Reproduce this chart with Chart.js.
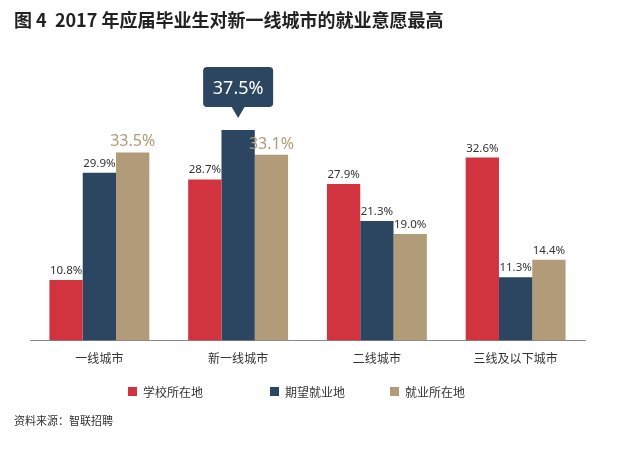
<!DOCTYPE html>
<html><head><meta charset="utf-8">
<script src="https://cdn.jsdelivr.net/npm/chart.js@4/dist/chart.umd.min.js"></script>
<style>
body{margin:0;background:#fff;font-family:"Noto Sans CJK SC","Noto Sans",sans-serif;}
#wrap{position:relative;width:641px;height:449px;}
#title{position:absolute;left:14px;top:6px;font-size:18px;font-weight:bold;color:#222;}
#src{position:absolute;left:14px;top:412px;font-size:11px;color:#333;}
</style></head><body>
<div id="wrap">
<canvas id="c" width="641" height="449"></canvas>
<div id="title">图 4&nbsp; 2017 年应届毕业生对新一线城市的就业意愿最高</div>
<div id="src">资料来源：智联招聘</div>
</div>
<script>
const categories = ["一线城市", "新一线城市", "二线城市", "三线及以下城市"];
const seriesNames = ["学校所在地", "期望就业地", "就业所在地"];
const schoolValues = [10.8, 28.7, 27.9, 32.6];
const expectValues = [29.9, 37.5, 21.3, 11.3];
const workValues = [33.5, 33.1, 19.0, 14.4];
const colors = ["#d2343f", "#2c4561", "#b19b78"];

const labelPlugin = {
	id: "labels",
	afterDatasetsDraw(chart) {
		const ctx = chart.ctx;
		ctx.save();
		ctx.textAlign = "center";
		chart.data.datasets.forEach((ds, di) => {
			chart.getDatasetMeta(di).data.forEach((bar, i) => {
				const v = ds.data[i].toFixed(1) + "%";
				if (di === 1 && i === 1) {
					// callout box
					const x = bar.x, y = bar.y;
					ctx.fillStyle = colors[1];
					ctx.beginPath();
					ctx.roundRect(x - 35, y - 63, 70, 40, 4);
					ctx.fill();
					ctx.beginPath();
					ctx.moveTo(x - 7, y - 24);
					ctx.lineTo(x, y - 12);
					ctx.lineTo(x + 7, y - 24);
					ctx.fill();
					ctx.fillStyle = "#fff";
					ctx.font = "18px 'Noto Sans', sans-serif";
					ctx.fillText(v, x, y - 36);
				} else if (di === 2 && (i === 0 || i === 1)) {
					ctx.fillStyle = colors[2];
					ctx.font = "16px 'Noto Sans', sans-serif";
					ctx.fillText(v, bar.x, bar.y - 6);
				} else {
					ctx.fillStyle = "#333";
					ctx.font = "11.5px 'Noto Sans', sans-serif";
					ctx.fillText(v, bar.x, bar.y - 6);
				}
			});
		});
		// legend
		const lx = [128, 270, 390];
		ctx.textAlign = "left";
		ctx.textBaseline = "middle";
		ctx.font = "12px 'Noto Sans CJK SC', sans-serif";
		seriesNames.forEach((n, k) => {
			ctx.fillStyle = colors[k];
			ctx.fillRect(lx[k], 387, 9, 9);
			ctx.fillStyle = "#333";
			ctx.fillText(n, lx[k] + 15, 392);
		});
		ctx.restore();
	}
};

new Chart(document.getElementById("c").getContext("2d"), {
	type: "bar",
	data: {
		labels: categories,
		datasets: [
			{ label: seriesNames[0], data: schoolValues, backgroundColor: colors[0] },
			{ label: seriesNames[1], data: expectValues, backgroundColor: colors[1] },
			{ label: seriesNames[2], data: workValues, backgroundColor: colors[2] },
		],
	},
	options: {
		responsive: false,
		animation: false,
		layout: { padding: { left: 30, right: 56, top: 116, bottom: 80 } },
		datasets: { bar: { categoryPercentage: 0.72, barPercentage: 1 } },
		plugins: { legend: { display: false }, tooltip: { enabled: false } },
		scales: {
			y: { display: false, min: 0, max: 40 },
			x: {
				grid: { display: false },
				border: { color: "#888" },
				ticks: { color: "#333", font: { size: 12, family: "'Noto Sans CJK SC'" } },
			},
		},
	},
	plugins: [labelPlugin],
});
</script>
</body></html>
